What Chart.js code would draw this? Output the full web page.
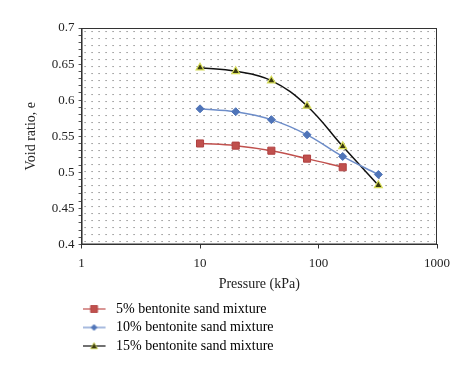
<!DOCTYPE html>
<html>
<head>
<meta charset="utf-8">
<script src="https://cdn.jsdelivr.net/npm/chart.js@4"></script>
<style>
  body { margin: 0; background: #fff; }
  #wrap { width: 474px; height: 373px; }
</style>
</head>
<body>
<div id="wrap"><canvas id="chart"></canvas></div>
<script>
const pressure = [10, 20, 40, 80, 160, 320];
const ben5 = [0.540, 0.537, 0.530, 0.519, 0.507];
const ben10 = [0.588, 0.584, 0.573, 0.552, 0.522, 0.497];
const ben15 = [0.645, 0.640, 0.627, 0.592, 0.536, 0.482];
const seriesNames = ["5% bentonite sand mixture", "10% bentonite sand mixture", "15% bentonite sand mixture"];
const xLabels = [1, 10, 100, 1000];

const serif = "'Liberation Serif', 'DejaVu Serif', serif";

function points(vals) {
  return vals.map((v, i) => ({ x: pressure[i], y: v }));
}

// little line + marker picture for the legend (line sits on the left part)
function legendIcon(color, style, fill, edge, size) {
  const c = document.createElement("canvas");
  c.width = 30;
  c.height = 10;
  const g = c.getContext("2d");
  const cx = 11.5;
  g.strokeStyle = color;
  g.lineWidth = 1.2;
  g.beginPath();
  g.moveTo(0, 5);
  g.lineTo(23, 5);
  g.stroke();
  g.fillStyle = fill;
  g.strokeStyle = edge;
  g.lineWidth = 0.8;
  g.beginPath();
  if (style === "rect") {
    g.rect(cx - size, 5 - size, size * 2, size * 2);
  } else if (style === "rectRot") {
    g.moveTo(cx, 5 - size);
    g.lineTo(cx + size, 5);
    g.lineTo(cx, 5 + size);
    g.lineTo(cx - size, 5);
    g.closePath();
  } else {
    g.moveTo(cx, 5 - size);
    g.lineTo(cx + size, 5 + size * 0.8);
    g.lineTo(cx - size, 5 + size * 0.8);
    g.closePath();
  }
  g.fill();
  g.stroke();
  return c;
}

// dotted background + frame like the original
const plotBox = {
  id: "plotBox",
  beforeDatasetsDraw(chart) {
    const a = chart.chartArea;
    const ctx = chart.ctx;
    const p = document.createElement("canvas");
    p.width = 7;
    p.height = 7;
    const pg = p.getContext("2d");
    pg.fillStyle = "rgba(60,60,60,0.8)";
    pg.fillRect(3, 3, 1, 1);
    ctx.save();
    ctx.fillStyle = ctx.createPattern(p, "repeat");
    ctx.translate(a.left, a.top);
    ctx.fillRect(2, 2, a.right - a.left - 4, a.bottom - a.top - 4);
    ctx.restore();
  },
  afterDraw(chart) {
    const a = chart.chartArea;
    const ctx = chart.ctx;
    ctx.save();
    ctx.strokeStyle = "#333";
    ctx.lineWidth = 1;
    ctx.strokeRect(a.left + 0.5, a.top + 0.5, a.right - a.left - 1, a.bottom - a.top - 1);
    ctx.restore();
  }
};

const colors = ["#c0504d", "#6d8dc9", "#111111"];
const icons = [
  legendIcon("#c0504d", "rect", "#c0504d", "#b04040", 3.5),
  legendIcon("#6d8dc9", "rectRot", "#4f74b8", "#4f74b8", 3),
  legendIcon("#111111", "triangle", "#3a3a10", "#d6dc58", 3.5)
];

new Chart(document.getElementById("chart"), {
  type: "line",
  data: {
    datasets: [
      {
        label: seriesNames[0],
        data: points(ben5),
        borderColor: colors[0],
        borderWidth: 1.5,
        pointStyle: "rect",
        pointRadius: 5,
        pointBackgroundColor: "#c0504d",
        pointBorderColor: "#b04040",
        pointBorderWidth: 1
      },
      {
        label: seriesNames[1],
        data: points(ben10),
        borderColor: colors[1],
        borderWidth: 1.5,
        pointStyle: "rectRot",
        pointRadius: 4,
        pointBackgroundColor: "#4f74b8",
        pointBorderColor: "#4f74b8",
        pointBorderWidth: 1
      },
      {
        label: seriesNames[2],
        data: points(ben15),
        borderColor: colors[2],
        borderWidth: 1.5,
        pointStyle: "triangle",
        pointRadius: 4.5,
        pointBackgroundColor: "#3a3a10",
        pointBorderColor: "#d6dc58",
        pointBorderWidth: 1.2
      }
    ]
  },
  options: {
    responsive: true,
    maintainAspectRatio: false,
    animation: false,
    layout: { padding: { top: 28, right: 37, bottom: 10, left: 23 } },
    elements: { line: { tension: 0.4, fill: false } },
    plugins: {
      tooltip: { enabled: false },
      legend: {
        position: "bottom",
        align: "start",
        fullSize: false,
        labels: {
          usePointStyle: true,
          pointStyleWidth: 23,
          padding: 4.5,
          color: "#222",
          font: { family: serif, size: 14 },
          generateLabels: (chart) => chart.data.datasets.map((ds, i) => ({
            text: ds.label,
            pointStyle: icons[i],
            fillStyle: colors[i],
            strokeStyle: colors[i],
            lineWidth: 0,
            hidden: false,
            datasetIndex: i
          }))
        }
      }
    },
    scales: {
      x: {
        type: "logarithmic",
        min: 1,
        max: 1000,
        border: { display: true, color: "#333", width: 1 },
        grid: {
          drawOnChartArea: false,
          drawTicks: true,
          tickLength: 4,
          tickColor: (ctx) => xLabels.includes(ctx.tick && ctx.tick.value) ? "#333" : "rgba(0,0,0,0)"
        },
        ticks: {
          autoSkip: false,
          maxRotation: 0,
          color: "#222",
          font: { family: serif, size: 13, lineHeight: 1 },
          padding: 9,
          callback: (v) => xLabels.includes(v) ? String(v) : ""
        },
        title: {
          display: true,
          text: "Pressure (kPa)",
          color: "#222",
          font: { family: serif, size: 14, lineHeight: 1 },
          padding: { top: -2, bottom: 6 }
        }
      },
      y: {
        min: 0.4,
        max: 0.7,
        border: { display: true, color: "#333", width: 1 },
        grid: {
          drawOnChartArea: false,
          drawTicks: true,
          tickLength: 3,
          tickColor: "#555"
        },
        ticks: {
          stepSize: 0.01,
          autoSkip: false,
          color: "#222",
          font: { family: serif, size: 13 },
          padding: 4,
          callback: (v) => {
            const k = Math.round(v * 100);
            return k % 5 === 0 ? String(+(k / 100).toFixed(2)) : "";
          }
        },
        title: {
          display: true,
          text: "Void ratio, e",
          color: "#222",
          font: { family: serif, size: 14 },
          padding: { top: 0, bottom: 8 }
        }
      }
    }
  },
  plugins: [plotBox]
});
</script>
</body>
</html>
